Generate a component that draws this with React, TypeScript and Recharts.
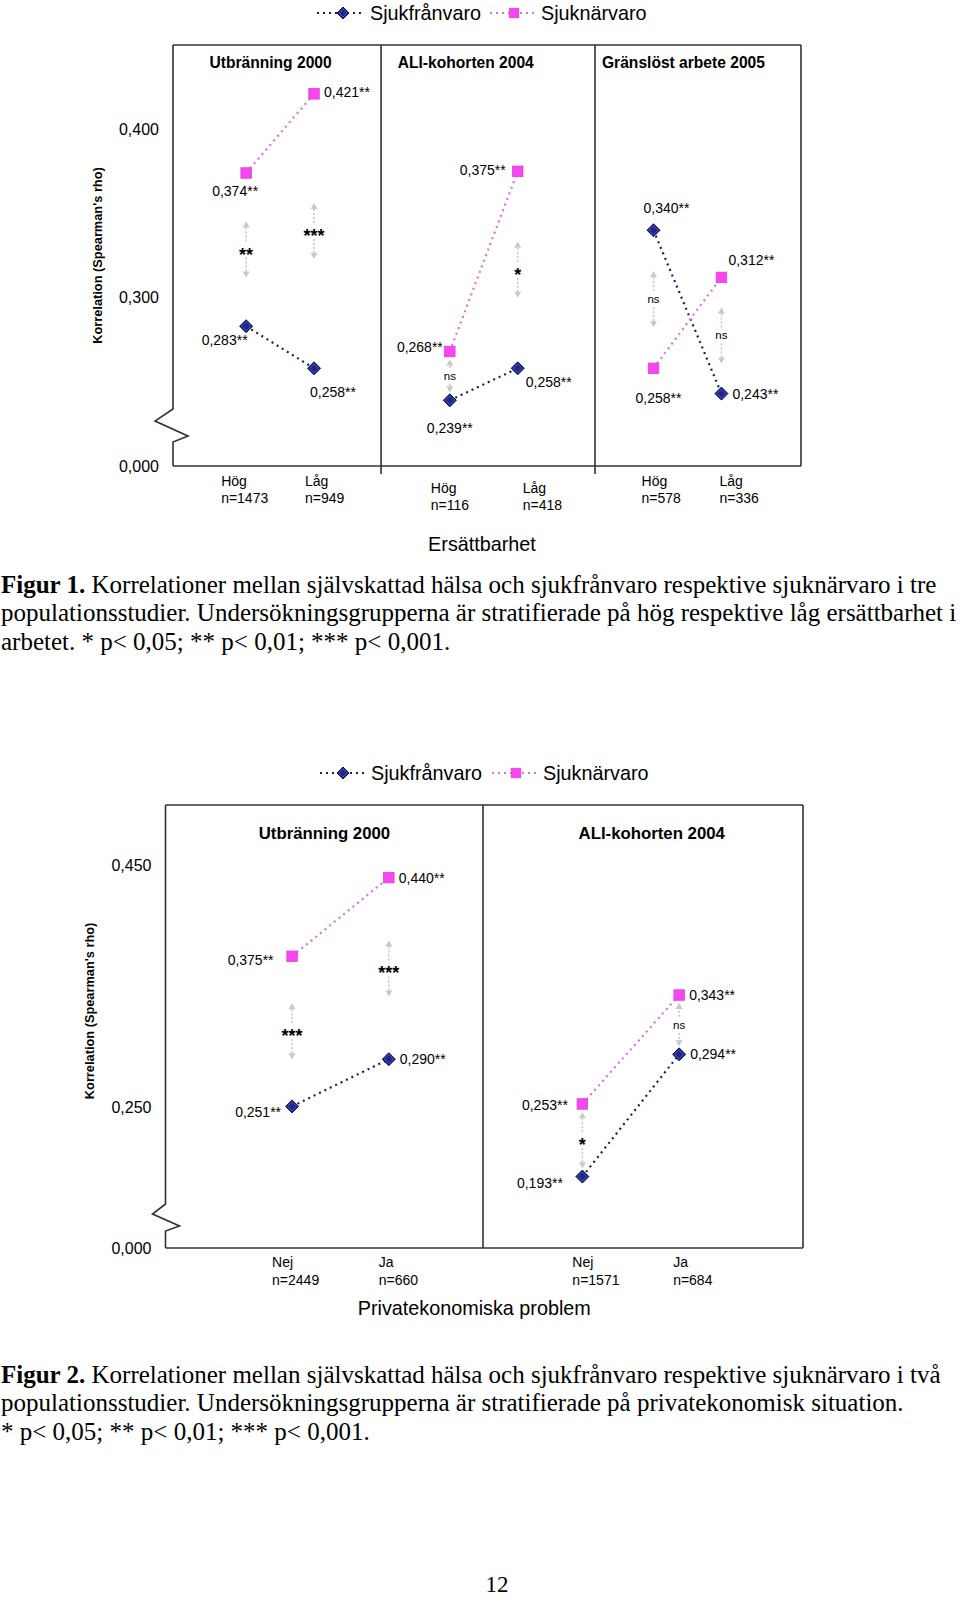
import React from 'react';
import { LineChart, Line, XAxis, YAxis, ReferenceLine, ReferenceDot, Legend } from 'recharts';

const FONT = '"Liberation Sans", Arial, Helvetica, sans-serif';
const SERIF = '"Liberation Serif", "Times New Roman", Times, serif';
const NAVY = '#1f2689';
const NAVY_LINE = '#1b1e5c';
const PINK = '#f646ee';
const PINK_LINE = '#d873dc';
const FRAME = '#333333';
const ARROW = '#c8c8c8';

const seriesNames = ['Sjukfrånvaro', 'Sjuknärvaro'];

// Figur 1 – ersättbarhet
const studies1 = ['Utbränning 2000', 'ALI-kohorten 2004', 'Gränslöst arbete 2005'];
const groups1 = ['Hög', 'Låg'];
const sizes1 = ['n=1473', 'n=949', 'n=116', 'n=418', 'n=578', 'n=336'];
const sjukfranvaro1 = [0.283, 0.258, 0.239, 0.258, 0.34, 0.243];
const sjuknarvaro1 = [0.374, 0.421, 0.268, 0.375, 0.258, 0.312];
const sfStars1 = ['**', '**', '**', '**', '**', '**'];
const snStars1 = ['**', '**', '**', '**', '**', '**'];
const diff1 = ['**', '***', 'ns', '*', 'ns', 'ns'];
const yTicks1 = [0.2, 0.3, 0.4]; // 0.2 sits at the axis break and is shown as 0,000

// Figur 2 – privatekonomiska problem
const studies2 = ['Utbränning 2000', 'ALI-kohorten 2004'];
const groups2 = ['Nej', 'Ja'];
const sizes2 = ['n=2449', 'n=660', 'n=1571', 'n=684'];
const sjukfranvaro2 = [0.251, 0.29, 0.193, 0.294];
const sjuknarvaro2 = [0.375, 0.44, 0.253, 0.343];
const sfStars2 = ['**', '**', '**', '**'];
const snStars2 = ['**', '**', '**', '**'];
const diff2 = ['***', '***', '*', 'ns'];
const yTicks2 = [0.134, 0.25, 0.45];

const caption1 = [
  ' Korrelationer mellan självskattad hälsa och sjukfrånvaro respektive sjuknärvaro i tre',
  'populationsstudier. Undersökningsgrupperna är stratifierade på hög respektive låg ersättbarhet i',
  'arbetet. * p< 0,05; ** p< 0,01; *** p< 0,001.',
];
const caption2 = [
  ' Korrelationer mellan självskattad hälsa och sjukfrånvaro respektive sjuknärvaro i två',
  'populationsstudier. Undersökningsgrupperna är stratifierade på privatekonomisk situation.',
  '* p< 0,05; ** p< 0,01; *** p< 0,001.',
];

const fmt = (v: number) => v.toFixed(3).replace('.', ',');

function buildRows(studies: string[], groups: string[], sizes: string[], sf: number[], sn: number[],
  sfStars: string[], snStars: string[], diff: string[]) {
  const rows: any[] = [];
  const G = groups.length;
  studies.forEach((_, p) => {
    groups.forEach((g, j) => {
      const k = p * G + j;
      rows.push({
        slot: p * (G + 1) + j, k, group: g, n: sizes[k],
        sf: sf[k], sn: sn[k], mid: (sf[k] + sn[k]) / 2, diff: diff[k],
        sfLabel: fmt(sf[k]) + sfStars[k], snLabel: fmt(sn[k]) + snStars[k],
      });
    });
    if (p < studies.length - 1) rows.push({ slot: p * (G + 1) + G, sf: null, sn: null, mid: null });
  });
  return rows;
}

const rows1 = buildRows(studies1, groups1, sizes1, sjukfranvaro1, sjuknarvaro1, sfStars1, snStars1, diff1);
const rows2 = buildRows(studies2, groups2, sizes2, sjukfranvaro2, sjuknarvaro2, sfStars2, snStars2, diff2);

type Place = [number, number, 'start' | 'middle' | 'end'];

const Diamond = ({ cx, cy, r = 6.5 }: any) => (
  <g>
    <path d={`M${cx},${cy - r}L${cx + r},${cy}L${cx},${cy + r}L${cx - r},${cy}Z`} fill={NAVY} stroke="#0e1150" strokeWidth={1} />
    <path d={`M${cx},${cy - r + 2}L${cx + r - 2},${cy}L${cx},${cy + r - 2}L${cx - r + 2},${cy}Z`} fill="none" stroke="#5b64c6" strokeWidth={0.7} />
  </g>
);

const Square = ({ cx, cy, s = 10.5 }: any) => (
  <rect x={cx - s / 2} y={cy - s / 2} width={s} height={s} fill={PINK} stroke="#e43fdc" strokeWidth={0.8} />
);

const Arrow = ({ x, y0, y1 }: any) => {
  const dir = y1 < y0 ? -1 : 1;
  return (
    <g>
      <line x1={x} y1={y0} x2={x} y2={y1 - dir * 4} stroke={ARROW} strokeWidth={1.6} strokeDasharray="2 2" />
      <path d={`M${x},${y1}L${x - 3.5},${y1 - dir * 6}L${x + 3.5},${y1 - dir * 6}Z`} fill={ARROW} />
    </g>
  );
};

const LegendRow = ({ xs }: { xs: number[] }) => (
  <svg width={960} height={32} style={{ display: 'block' }}>
    <line x1={xs[0]} x2={xs[2]} y1={16} y2={16} stroke={NAVY_LINE} strokeWidth={2} strokeDasharray="2 4" />
    <Diamond cx={xs[1]} cy={16} r={6} />
    <text x={xs[3]} y={16} dominantBaseline="central" fontSize={19.8} fontFamily={FONT} fill="#000">{seriesNames[0]}</text>
    <line x1={xs[4]} x2={xs[6]} y1={16} y2={16} stroke={PINK_LINE} strokeWidth={2} strokeDasharray="2 4" />
    <Square cx={xs[5]} cy={16} s={9.5} />
    <text x={xs[7]} y={16} dominantBaseline="central" fontSize={19.8} fontFamily={FONT} fill="#000">{seriesNames[1]}</text>
  </svg>
);

type FigureProps = {
  rows: any[];
  studies: string[];
  groups: string[];
  height: number;
  margin: { top: number; right: number; bottom: number; left: number };
  xDomain: [number, number];
  yDomain: [number, number];
  yTicks: number[];
  dividers: number[];
  dividerExtend: number;
  zig: number[];
  headerDx: number[];
  headerDy: number;
  headerSize: number;
  sfPlace: Place[];
  snPlace: Place[];
  tickShift: number[];
  tickDy: number[];
  tickLines: [number, number];
  axisTitle: string;
  axisTitleDx: number;
  axisTitleDy: number;
  yTitleDx: number;
  yTitleDy: number;
  legendY: number;
  legendXs: number[];
};

function Figure(f: FigureProps) {
  const G = f.groups.length;
  const plotH = f.height - f.margin.top - f.margin.bottom - 40;
  const pxPerUnit = plotH / (f.yDomain[1] - f.yDomain[0]);
  const tickSlots = f.rows.filter((r) => r.k != null).map((r) => r.slot);

  const markerDot = (kind: 'sf' | 'sn', places: Place[]) => (p: any) => {
    const { cx, cy, payload, index } = p;
    if (cx == null || cy == null || payload == null || payload[kind] == null) return <g key={`${kind}${index}`} />;
    const [dx, dy, anchor] = places[payload.k];
    return (
      <g key={`${kind}${index}`}>
        {kind === 'sf' ? <Diamond cx={cx} cy={cy} /> : <Square cx={cx} cy={cy} />}
        <text x={cx + dx} y={cy + dy} textAnchor={anchor} dominantBaseline="central" fontSize={14} fontFamily={FONT} fill="#000">
          {kind === 'sf' ? payload.sfLabel : payload.snLabel}
        </text>
      </g>
    );
  };

  const sigDot = (p: any) => {
    const { cx, cy, payload, index } = p;
    if (cx == null || cy == null || payload == null || payload.diff == null) return <g key={`d${index}`} />;
    const half = (Math.abs(payload.sn - payload.sf) * pxPerUnit) / 2;
    const len = Math.max(5, Math.min(20, half - 16));
    const gap = 8;
    const ns = payload.diff === 'ns';
    return (
      <g key={`d${index}`}>
        <Arrow x={cx} y0={cy - gap} y1={cy - gap - len} />
        <Arrow x={cx} y0={cy + gap} y1={cy + gap + len} />
        <text x={cx} y={cy + (ns ? 0 : 5)} textAnchor="middle" dominantBaseline="central"
          fontSize={ns ? 11.5 : 18} fontWeight={ns ? 400 : 700} fontFamily={FONT} fill="#000">{payload.diff}</text>
      </g>
    );
  };

  const renderTick = (p: any) => {
    const row = f.rows.find((r) => r.k != null && r.slot === p.payload.value);
    if (!row) return <g />;
    const x = p.x + f.tickShift[row.k];
    const y = p.y + f.tickDy[row.k];
    return (
      <g>
        <text x={x} y={y + f.tickLines[0]} textAnchor="start" dominantBaseline="central" fontSize={14} fontFamily={FONT} fill="#000">{row.group}</text>
        <text x={x} y={y + f.tickLines[1]} textAnchor="start" dominantBaseline="central" fontSize={14} fontFamily={FONT} fill="#000">{row.n}</text>
      </g>
    );
  };

  const zigShape = (p: any) => {
    const x = p.x1;
    const top = Math.min(p.y1, p.y2);
    const bot = Math.max(p.y1, p.y2);
    const z = f.zig;
    const d = `M${x},${top}L${x},${bot - z[0]}L${x + z[1]},${bot - z[2]}L${x + z[3]},${bot - z[4]}L${x},${bot - z[5]}L${x},${bot}`;
    return <path d={d} fill="none" stroke={FRAME} strokeWidth={1.6} />;
  };

  const dividerShape = (p: any) => (
    <line x1={p.x1} x2={p.x2} y1={Math.min(p.y1, p.y2)} y2={Math.max(p.y1, p.y2) + f.dividerExtend} stroke={FRAME} strokeWidth={1.6} />
  );

  const xMid = (f.xDomain[0] + f.xDomain[1]) / 2;
  const yMid = (f.yDomain[0] + f.yDomain[1]) / 2;

  return (
    <LineChart width={960} height={f.height} data={f.rows} margin={f.margin}>
      <XAxis type="number" dataKey="slot" domain={f.xDomain} ticks={tickSlots} interval={0} allowDataOverflow
        tickLine={false} tickSize={0} tickMargin={0} height={40}
        axisLine={{ stroke: FRAME, strokeWidth: 1.6 }} tick={renderTick} />
      <YAxis type="number" domain={f.yDomain} ticks={f.yTicks} allowDataOverflow width={60}
        axisLine={false} tickLine={false} tickSize={0} tickMargin={14}
        tick={{ fontSize: 16, fill: '#000', fontFamily: FONT }}
        tickFormatter={(v: number) => (v === f.yDomain[0] ? '0,000' : fmt(v))} />
      <Legend verticalAlign="middle" align="center" layout="horizontal"
        wrapperStyle={{ top: f.legendY - 16, left: 0, width: 960, height: 32 }}
        content={() => <LegendRow xs={f.legendXs} />} />

      <ReferenceLine y={f.yDomain[1]} stroke={FRAME} strokeWidth={1.6} ifOverflow="visible" />
      <ReferenceLine x={f.xDomain[1]} stroke={FRAME} strokeWidth={1.6} ifOverflow="visible" />
      <ReferenceLine x={f.xDomain[0]} ifOverflow="visible" shape={zigShape} />
      {f.dividers.map((d) => (
        <ReferenceLine key={`div${d}`} x={d} ifOverflow="visible" shape={dividerShape} />
      ))}

      {f.studies.map((s, p) => (
        <ReferenceDot key={`h${p}`} x={p * (G + 1) + (G - 1) / 2} y={f.yDomain[1]} r={1} ifOverflow="visible"
          shape={(d: any) => (
            <text x={d.cx + f.headerDx[p]} y={d.cy + f.headerDy} textAnchor="middle" dominantBaseline="central"
              fontSize={f.headerSize} fontWeight={700} fontFamily={FONT} fill="#000">{s}</text>
          )} />
      ))}
      <ReferenceDot x={xMid} y={f.yDomain[0]} r={1} ifOverflow="visible"
        shape={(d: any) => (
          <text x={d.cx + f.axisTitleDx} y={d.cy + f.axisTitleDy} textAnchor="middle" dominantBaseline="central"
            fontSize={19.8} fontFamily={FONT} fill="#000">{f.axisTitle}</text>
        )} />
      <ReferenceDot x={f.xDomain[0]} y={yMid} r={1} ifOverflow="visible"
        shape={(d: any) => {
          const x = d.cx + f.yTitleDx;
          const y = d.cy + f.yTitleDy;
          return (
            <text x={x} y={y} transform={`rotate(-90 ${x} ${y})`} textAnchor="middle" dominantBaseline="central"
              fontSize={12.8} fontWeight={700} fontFamily={FONT} fill="#000">Korrelation (Spearman's rho)</text>
          );
        }} />

      <Line dataKey="mid" stroke="none" dot={sigDot} activeDot={false} isAnimationActive={false} legendType="none" />
      <Line dataKey="sf" name={seriesNames[0]} stroke={NAVY_LINE} strokeWidth={2.2} strokeDasharray="2 4"
        dot={markerDot('sf', f.sfPlace)} activeDot={false} isAnimationActive={false} />
      <Line dataKey="sn" name={seriesNames[1]} stroke={PINK_LINE} strokeWidth={2.2} strokeDasharray="2 4"
        dot={markerDot('sn', f.snPlace)} activeDot={false} isAnimationActive={false} />
    </LineChart>
  );
}

const Caption = ({ top, bold, lines }: { top: number; bold: string; lines: string[] }) => (
  <div style={{ position: 'absolute', left: 1, top, fontFamily: SERIF, fontSize: 25, lineHeight: '28.3px', whiteSpace: 'nowrap', color: '#000' }}>
    {lines.map((l, i) => (
      <div key={i}>
        {i === 0 && <b>{bold}</b>}
        {l}
      </div>
    ))}
  </div>
);

export default function App() {
  return (
    <div style={{ position: 'absolute', left: 0, top: 0, width: 960, height: 1601, background: '#fff', overflow: 'hidden' }}>
      <div style={{ position: 'absolute', left: 0, top: 0 }}>
        <Figure
          rows={rows1} studies={studies1} groups={groups1}
          height={560}
          margin={{ top: 45, right: 159, bottom: 54, left: 113 }}
          xDomain={[-1.077, 8.172]} yDomain={[0.2, 0.45]} yTicks={yTicks1}
          dividers={[1.987, 5.138]} dividerExtend={8}
          zig={[57, -18, 45, 15, 30, 24]}
          headerDx={[-9.5, -18, -4]} headerDy={17.3} headerSize={15.6}
          sfPlace={[[-21.5, 14, 'middle'], [19, 24, 'middle'], [0, 28, 'middle'], [8, 14, 'start'], [13, -22.5, 'middle'], [11, 0, 'start']]}
          snPlace={[[-11, 18.5, 'middle'], [10, -1.5, 'start'], [-7, -4, 'end'], [-12, -1, 'end'], [5, 30, 'middle'], [7, -17, 'start']]}
          tickShift={[-25, -9, -19, 5, -12, -2]} tickDy={[0, 0, 7, 7, 0, 0]} tickLines={[15, 32]}
          axisTitle="Ersättbarhet" axisTitleDx={-5} axisTitleDy={78}
          yTitleDx={-76} yTitleDy={0}
          legendY={13.3} legendXs={[317, 343, 362, 370, 490, 514, 536, 541]}
        />
      </div>
      <Caption top={571} bold="Figur 1." lines={caption1} />
      <div style={{ position: 'absolute', left: 0, top: 740 }}>
        <Figure
          rows={rows2} studies={studies2} groups={groups2}
          height={600}
          margin={{ top: 65, right: 157, bottom: 52, left: 105.5 }}
          xDomain={[-1.308, 5.28]} yDomain={[0.134, 0.5]} yTicks={yTicks2}
          dividers={[1.973]} dividerExtend={0}
          zig={[44, -13, 34, 14, 22, 17]}
          headerDx={[-16, 21]} headerDy={28} headerSize={16.8}
          sfPlace={[[-11, 6, 'end'], [11, 0, 'start'], [-19.5, 6, 'end'], [11, 0, 'start']]}
          snPlace={[[-18.5, 4, 'end'], [10, 0, 'start'], [-14.5, 1, 'end'], [10, 0, 'start']]}
          tickShift={[-20, -10, -10, -6]} tickDy={[0, 0, 0, 0]} tickLines={[14, 32]}
          axisTitle="Privatekonomiska problem" axisTitleDx={-10} axisTitleDy={60}
          yTitleDx={-75.5} yTitleDy={-15.6}
          legendY={33} legendXs={[320, 343, 366, 371, 492, 516, 538, 543]}
        />
      </div>
      <Caption top={1361} bold="Figur 2." lines={caption2} />
      <div style={{ position: 'absolute', left: 0, top: 1575, width: 994, textAlign: 'center', fontFamily: SERIF, fontSize: 23, lineHeight: '20px' }}>12</div>
    </div>
  );
}
